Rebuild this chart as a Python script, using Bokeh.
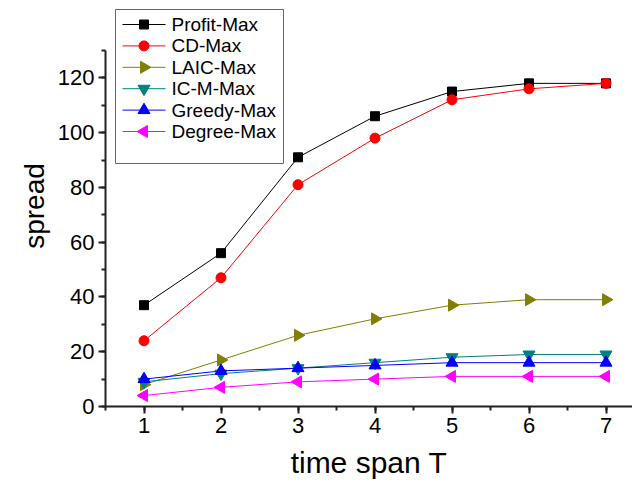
import math
from bokeh.plotting import figure
from bokeh.models import Range1d, SingleIntervalTicker, ColumnDataSource
from bokeh.core.properties import value
from bokeh.embed import file_html
from bokeh.resources import INLINE

T = [1, 2, 3, 4, 5, 6, 7]
profit_max = [37, 56, 91, 106, 115, 118, 118]
cd_max = [24, 47, 81, 98, 112, 116, 118]
laic_max = [8, 17, 26, 32, 37, 39, 39]
icm_max = [9, 12, 14, 16, 18, 19, 19]
greedy_max = [10, 13, 14, 15, 16, 16, 16]
degree_max = [4, 7, 9, 10, 11, 11, 11]

names = ["Profit-Max", "CD-Max", "LAIC-Max", "IC-M-Max", "Greedy-Max", "Degree-Max"]
values = [profit_max, cd_max, laic_max, icm_max, greedy_max, degree_max]
colors = ["black", "red", "#808000", "#008080", "blue", "magenta"]
markers = ["square", "circle", "triangle", "inverted_triangle", "triangle", "triangle"]
angles = [0.0, 0.0, -math.pi / 2, 0.0, 0.0, math.pi / 2]
sizes = [9, 10, 12, 12, 12, 12]

# frame geometry (screen px)
FL, FR, FT, FB = 105, 632, 5, 406
YMAX_AXIS = 130
px_per_unit = (FB - 50) / YMAX_AXIS

p = figure(width=632, height=487, output_backend="svg", toolbar_location=None,
           x_range=Range1d(0.5, 0.5 + (FR - FL) / 77.0),
           y_range=Range1d(0, (FB - FT) / px_per_unit),
           min_border_left=FL, min_border_right=632 - FR,
           min_border_top=FT, min_border_bottom=487 - FB)
p.outline_line_color = None
p.grid.visible = False
p.background_fill_color = "white"
p.border_fill_color = "white"

# screen-pixel ranges for the legend
p.extra_x_ranges = {"px": Range1d(FL, FR)}
p.extra_y_ranges = {"py": Range1d(FB, FT)}

for name, ys, color, marker, ang, size in zip(names, values, colors, markers, angles, sizes):
    src = ColumnDataSource(dict(x=T, y=ys))
    p.line("x", "y", source=src, line_color=color, line_width=1)
    p.scatter("x", "y", source=src, marker=marker, angle=ang, size=size,
              fill_color=color, line_color=color)

for ax in (p.xaxis[0], p.yaxis[0]):
    ax.axis_line_width = 2
    ax.axis_line_color = "#222222"
    ax.major_tick_line_width = 2
    ax.minor_tick_line_width = 2
    ax.major_tick_line_color = "#222222"
    ax.minor_tick_line_color = "#222222"
    ax.major_tick_out = 7
    ax.major_tick_in = 0
    ax.minor_tick_out = 4
    ax.minor_tick_in = 0
    ax.major_label_text_font = "Liberation Sans"
    ax.major_label_text_font_size = "22px"
    ax.major_label_text_color = "black"
    ax.axis_label_text_font = "Liberation Sans"
    ax.axis_label_text_font_style = "normal"
    ax.axis_label_text_color = "black"

p.xaxis[0].ticker = SingleIntervalTicker(interval=1, num_minor_ticks=2)
p.yaxis[0].ticker = SingleIntervalTicker(interval=20, num_minor_ticks=2)
p.yaxis[0].bounds = (0, YMAX_AXIS)
p.xaxis[0].axis_label = "time span T"
p.yaxis[0].axis_label = "spread"
p.xaxis[0].axis_label_text_font_size = "30px"
p.yaxis[0].axis_label_text_font_size = "28px"
p.xaxis[0].axis_label_standoff = 10
p.yaxis[0].axis_label_standoff = 5
p.xaxis[0].major_label_standoff = 4
p.yaxis[0].major_label_standoff = 4

# legend drawn in screen pixels
LX0, LX1, LY0, LY1 = 115, 283, 9, 163
p.quad(left=[LX0], right=[LX1], top=[LY0], bottom=[LY1], x_range_name="px", y_range_name="py",
       fill_color="white", line_color="#666666", line_width=1)
n = len(names)
ly = [24 + i * 21.4 for i in range(n)]
p.segment(x0=[122] * n, x1=[165] * n, y0=ly, y1=ly, line_color=colors, line_width=1,
          x_range_name="px", y_range_name="py")
p.scatter(x=[143.5] * n, y=ly, marker=markers, angle=angles, size=sizes,
          fill_color=colors, line_color=colors, x_range_name="px", y_range_name="py")
p.text(x=[171] * n, y=ly, text=names, text_font=value("Liberation Sans"),
       text_font_size="19px", text_baseline="middle", text_align="left", text_color="black",
       x_range_name="px", y_range_name="py")

open("out.html", "w").write(file_html(p, INLINE))
